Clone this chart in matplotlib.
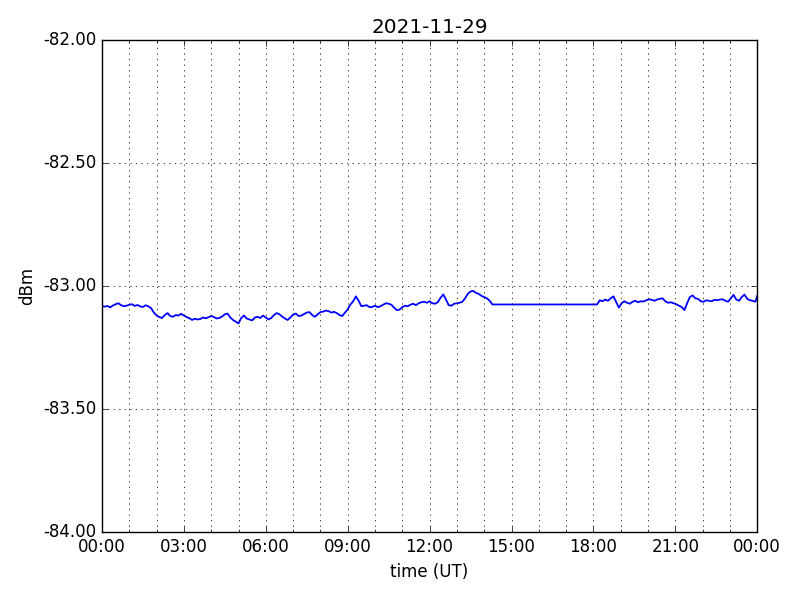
import numpy as np
import pandas as pd
import matplotlib
matplotlib.use("Agg")
import matplotlib.pyplot as plt
import matplotlib.dates as mdates
from matplotlib.ticker import FormatStrFormatter

plt.style.use("classic")

title = "2021-11-29"
day_start = "2021-11-29 00:00"
day_end = "2021-11-30 00:00"

# first data block: one value every 6 minutes from 00:00
vals1 = [
    -83.080, -83.084, -83.081, -83.087, -83.079, -83.074, -83.070, -83.078,
    -83.082, -83.080, -83.076, -83.074, -83.081, -83.077, -83.083, -83.085,
    -83.078, -83.083, -83.090, -83.108, -83.120, -83.126, -83.130, -83.118,
    -83.110, -83.122, -83.125, -83.118, -83.120, -83.113, -83.120, -83.126,
    -83.131, -83.138, -83.133, -83.136, -83.134, -83.128, -83.131, -83.127,
    -83.122, -83.126, -83.132, -83.130, -83.124, -83.115, -83.112, -83.128,
    -83.138, -83.145, -83.152, -83.130, -83.120, -83.132, -83.136, -83.140,
    -83.128, -83.125, -83.130, -83.120, -83.128, -83.136, -83.130, -83.118,
    -83.110, -83.115, -83.124, -83.132, -83.138, -83.128, -83.116, -83.112,
    -83.122, -83.120, -83.114, -83.108, -83.106, -83.118, -83.125, -83.115,
    -83.106, -83.104, -83.100, -83.102, -83.108, -83.105, -83.110, -83.118,
    -83.122, -83.108, -83.095, -83.075, -83.062, -83.042, -83.060, -83.082,
    -83.080, -83.078, -83.086, -83.085, -83.080, -83.086, -83.082, -83.076,
    -83.070, -83.072, -83.076, -83.088, -83.098, -83.096, -83.086, -83.080,
    -83.082, -83.076, -83.072, -83.078, -83.070, -83.066, -83.064, -83.068,
    -83.062, -83.070, -83.072, -83.066, -83.048, -83.034, -83.055, -83.078,
    -83.080, -83.072, -83.070, -83.068, -83.064, -83.050, -83.032, -83.022,
    -83.020, -83.028, -83.032, -83.040, -83.045, -83.050, -83.060, -83.075,
]
start1_min = 0

# second data block: one value every 6 minutes from 18:08
vals2 = [
    -83.075, -83.058, -83.062, -83.055, -83.060, -83.050, -83.042, -83.065,
    -83.088, -83.070, -83.062, -83.068, -83.072, -83.064, -83.060, -83.066,
    -83.062, -83.063, -83.058, -83.054, -83.056, -83.060, -83.055, -83.052,
    -83.050, -83.062, -83.068, -83.066, -83.070, -83.074, -83.080, -83.085,
    -83.098, -83.070, -83.045, -83.038, -83.050, -83.052, -83.062, -83.064,
    -83.058, -83.060, -83.062, -83.056, -83.058, -83.055, -83.054, -83.060,
    -83.064, -83.050, -83.036, -83.055, -83.060, -83.045, -83.035, -83.052,
    -83.058, -83.060, -83.064,
]
start2_min = 1088
last_val = -83.040  # at 24:00

step = 6
t0 = pd.Timestamp(day_start)
times1 = [t0 + pd.Timedelta(minutes=start1_min + step * i) for i in range(len(vals1))]
times2 = [t0 + pd.Timedelta(minutes=start2_min + step * i) for i in range(len(vals2))]
times = times1 + times2 + [pd.Timestamp(day_end)]
values = vals1 + vals2 + [last_val]

fig = plt.figure(figsize=(8, 6), dpi=100, facecolor="white")
ax = fig.add_subplot(111)
fig.subplots_adjust(left=0.1275, right=0.9465, top=0.9333, bottom=0.1133)

ax.plot(times, values, color="b", linewidth=1.3)

ax.set_xlim(pd.Timestamp(day_start), pd.Timestamp(day_end))
ax.set_ylim(-84.0, -82.0)
ax.set_yticks([-84.0, -83.5, -83.0, -82.5, -82.0])
ax.yaxis.set_major_formatter(FormatStrFormatter("%.2f"))

ax.xaxis.set_major_locator(mdates.HourLocator(byhour=range(0, 24, 3)))
ax.xaxis.set_minor_locator(mdates.HourLocator())
ax.xaxis.set_major_formatter(mdates.DateFormatter("%H:%M"))

ax.grid(True, which="both", color="k", linestyle=":", linewidth=0.5)
ax.set_title(title, fontsize=14.4)
ax.set_xlabel("time (UT)", fontsize=12)
ax.set_ylabel("dBm", fontsize=12)
ax.tick_params(labelsize=12)

fig.savefig("out.png", dpi=100, facecolor="white")
